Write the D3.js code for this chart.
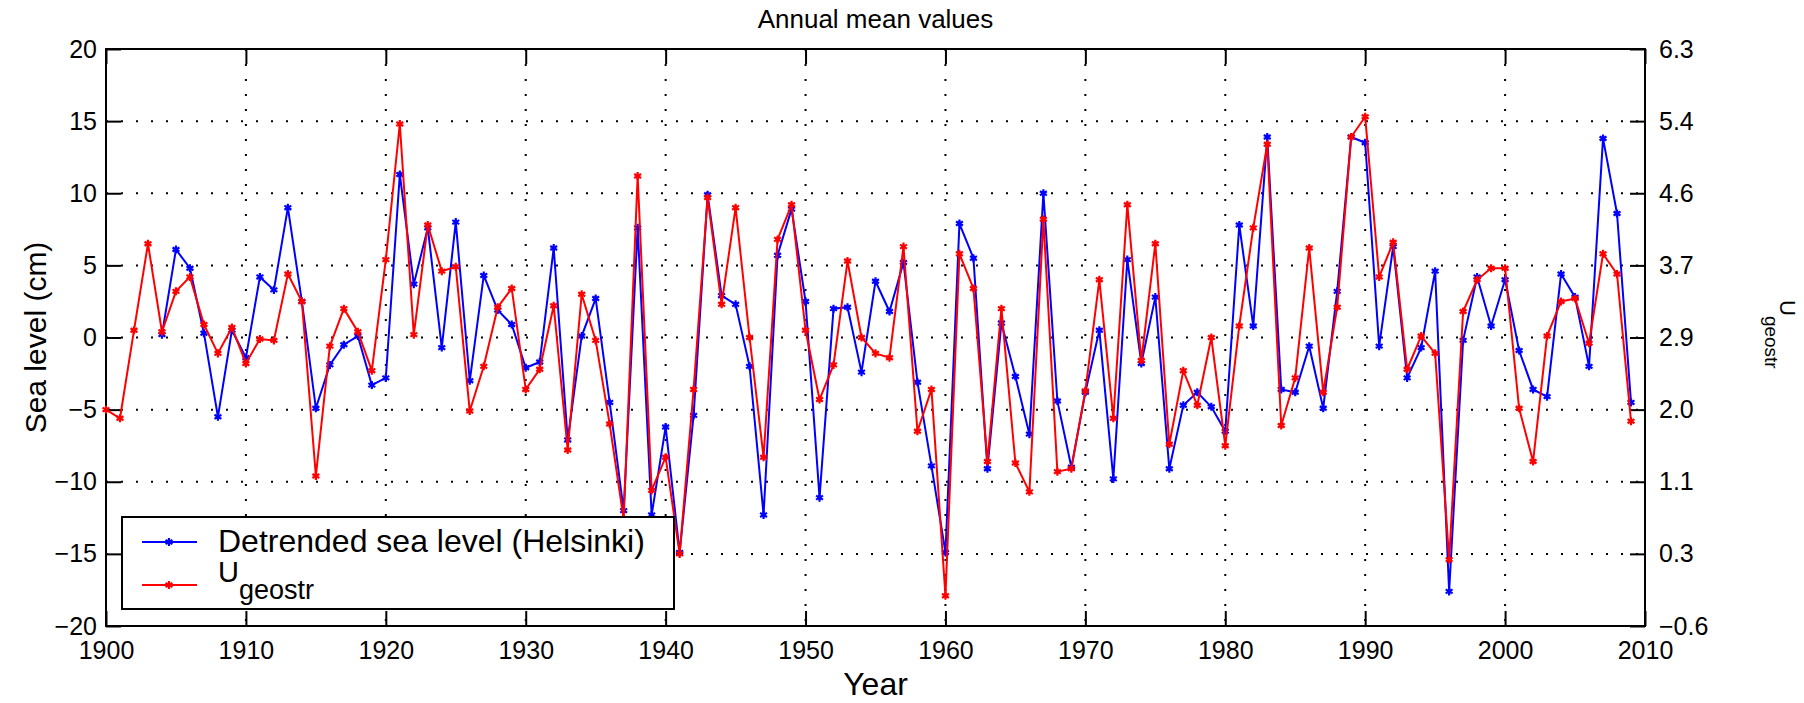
<!DOCTYPE html>
<html>
<head>
<meta charset="utf-8">
<script src="https://cdn.jsdelivr.net/npm/d3@7"></script>
<style>
  body { margin: 0; background: #fff; }
  svg { display: block; font-family: "Liberation Sans", Arial, Helvetica, sans-serif; }
</style>
</head>
<body>
<svg id="chart"></svg>
<script>
// annual means, 1900-2009
const years = d3.range(1900, 2010);

// detrended sea level at Helsinki (cm), starts 1904
const seaLevel = [
  null, null, null, null, 0.2, 6.1, 4.8, 0.3, -5.5, 0.5,
  -1.4, 4.2, 3.3, 9.0, 2.5, -4.9, -1.9, -0.5, 0.1, -3.3,
  -2.8, 11.3, 3.7, 7.6, -0.7, 8.0, -3.0, 4.3, 1.9, 0.9,
  -2.1, -1.7, 6.2, -7.1, 0.1, 2.7, -4.5, -12.0, 7.6, -12.3,
  -6.2, -14.9, -5.4, 9.9, 2.9, 2.3, -2.0, -12.3, 5.7, 8.9,
  2.5, -11.1, 2.0, 2.1, -2.4, 3.9, 1.8, 5.2, -3.1, -8.9,
  -14.9, 7.9, 5.5, -9.1, 1.0, -2.7, -6.7, 10.0, -4.4, -9.0,
  -3.8, 0.5, -9.8, 5.4, -1.8, 2.8, -9.1, -4.7, -3.8, -4.8,
  -6.5, 7.8, 0.8, 13.9, -3.6, -3.8, -0.6, -4.9, 3.2, 13.9,
  13.5, -0.6, 6.3, -2.8, -0.7, 4.6, -17.6, -0.2, 4.2, 0.8,
  4.0, -0.9, -3.6, -4.1, 4.4, 2.8, -2.0, 13.8, 8.6, -4.5
];

// U_geostr, as drawn against the left axis
const uGeostr = [
  -5.0, -5.6, 0.5, 6.5, 0.4, 3.2, 4.2, 0.9, -1.1, 0.7,
  -1.8, -0.1, -0.2, 4.4, 2.5, -9.6, -0.6, 2.0, 0.4, -2.3,
  5.4, 14.8, 0.2, 7.8, 4.6, 4.9, -5.1, -2.0, 2.1, 3.4,
  -3.6, -2.2, 2.2, -7.8, 3.0, -0.2, -6.0, -12.6, 11.2, -10.6,
  -8.3, -15.0, -3.6, 9.7, 2.3, 9.0, 0.0, -8.3, 6.8, 9.2,
  0.5, -4.3, -1.9, 5.3, 0.0, -1.1, -1.4, 6.3, -6.5, -3.6,
  -17.9, 5.8, 3.4, -8.6, 2.0, -8.7, -10.7, 8.2, -9.3, -9.1,
  -3.7, 4.0, -5.6, 9.2, -1.6, 6.5, -7.4, -2.3, -4.7, 0.0,
  -7.5, 0.8, 7.6, 13.4, -6.1, -2.8, 6.2, -3.8, 2.1, 13.9,
  15.3, 4.2, 6.6, -2.2, 0.1, -1.1, -15.4, 1.8, 4.0, 4.8,
  4.8, -4.9, -8.6, 0.1, 2.5, 2.7, -0.4, 5.8, 4.4, -5.8
];

const xTicks = d3.range(1900, 2011, 10);
const leftTicks = [-20, -15, -10, -5, 0, 5, 10, 15, 20];
const rightTickLabels = ["\u22120.6", "0.3", "1.1", "2.0", "2.9", "3.7", "4.6", "5.4", "6.3"];

const margin = {top: 49, right: 159, bottom: 77, left: 106},
    width = 1804 - margin.left - margin.right,
    height = 703 - margin.top - margin.bottom;

const svg = d3.select("#chart")
  .attr("width", 1804)
  .attr("height", 703);

svg.append("rect").attr("width", 1804).attr("height", 703).attr("fill", "#fff");

const g = svg.append("g")
  .attr("transform", "translate(" + margin.left + "," + margin.top + ")");

const x = d3.scaleLinear().domain([1900, 2010]).range([0, width]);
const y = d3.scaleLinear().domain([-20, 20]).range([height, 0]);

// dotted grid
g.append("g").selectAll("line")
  .data(xTicks.slice(1, -1))
  .join("line")
  .attr("x1", d => x(d)).attr("x2", d => x(d))
  .attr("y1", 0).attr("y2", height)
  .attr("stroke", "#000").attr("stroke-width", 2)
  .attr("stroke-dasharray", "2,13");

g.append("g").selectAll("line")
  .data(leftTicks.slice(1, -1))
  .join("line")
  .attr("x1", 0).attr("x2", width)
  .attr("y1", d => y(d)).attr("y2", d => y(d))
  .attr("stroke", "#000").attr("stroke-width", 2)
  .attr("stroke-dasharray", "2,13");

// axes, ticks pointing inwards like matlab
const tickFont = sel => {
  sel.select(".domain").remove();
  sel.selectAll(".tick line").attr("stroke-width", 2);
  sel.selectAll(".tick text").attr("fill", "#000").style("font-size", "25px");
};

g.append("g")
  .attr("transform", "translate(0," + height + ")")
  .call(d3.axisBottom(x).tickValues(xTicks).tickFormat(d3.format("d")).tickSize(-15).tickPadding(15))
  .call(tickFont);

g.append("g")
  .call(d3.axisTop(x).tickValues(xTicks).tickFormat("").tickSize(-15))
  .call(tickFont);

g.append("g")
  .call(d3.axisLeft(y).tickValues(leftTicks).tickSize(-15).tickPadding(9))
  .call(tickFont);

g.append("g")
  .attr("transform", "translate(" + width + ",0)")
  .call(d3.axisRight(y).tickValues(leftTicks).tickFormat((d, i) => rightTickLabels[i]).tickSize(-15).tickPadding(14))
  .call(tickFont);

g.append("rect")
  .attr("width", width).attr("height", height)
  .attr("fill", "none").attr("stroke", "#000").attr("stroke-width", 2);

// series
const series = [
  {name: "sea", values: seaLevel, color: "#0000ff"},
  {name: "u", values: uGeostr, color: "#ff0000"}
];

const line = d3.line()
  .defined(d => d.v != null)
  .x(d => x(d.year))
  .y(d => y(d.v));

const star = d3.symbol().type(d3.symbolAsterisk).size(45);

// asterisk with a small dot in the middle, reads like the matlab marker
const marker = (sel, color) => {
  sel.append("path")
    .attr("d", star)
    .attr("fill", "none")
    .attr("stroke", color)
    .attr("stroke-width", 2.2);
  sel.append("circle")
    .attr("r", 2.2)
    .attr("fill", color);
};

series.forEach(s => {
  const pts = years.map((yr, i) => ({year: yr, v: s.values[i]}));
  g.append("path")
    .datum(pts)
    .attr("d", line)
    .attr("fill", "none")
    .attr("stroke", s.color)
    .attr("stroke-width", 2);
  g.append("g").selectAll("g")
    .data(pts.filter(d => d.v != null))
    .join("g")
    .attr("transform", d => "translate(" + x(d.year) + "," + y(d.v) + ")")
    .call(marker, s.color);
});

// legend
const legend = svg.append("g").attr("transform", "translate(122,517)");
legend.append("rect")
  .attr("width", 552).attr("height", 92)
  .attr("fill", "#fff").attr("stroke", "#000").attr("stroke-width", 2);

const rows = [25, 68];
series.forEach((s, i) => {
  legend.append("line")
    .attr("x1", 20).attr("x2", 75)
    .attr("y1", rows[i]).attr("y2", rows[i])
    .attr("stroke", s.color).attr("stroke-width", 2);
  legend.append("g")
    .attr("transform", "translate(47," + rows[i] + ")")
    .call(marker, s.color);
});

legend.append("text")
  .attr("x", 96).attr("y", 35)
  .style("font-size", "32px")
  .text("Detrended sea level (Helsinki)");

const uLabel = legend.append("text")
  .attr("x", 96).attr("y", 65)
  .style("font-size", "29px");
uLabel.append("tspan").text("U");
uLabel.append("tspan").attr("dy", 17).style("font-size", "27px").text("geostr");

// titles
svg.append("text")
  .attr("x", margin.left + width / 2).attr("y", 28)
  .attr("text-anchor", "middle")
  .style("font-size", "26px")
  .text("Annual mean values");

svg.append("text")
  .attr("x", margin.left + width / 2).attr("y", 695)
  .attr("text-anchor", "middle")
  .style("font-size", "32px")
  .text("Year");

svg.append("text")
  .attr("transform", "translate(46," + (margin.top + height / 2) + ") rotate(-90)")
  .attr("text-anchor", "middle")
  .style("font-size", "30px")
  .text("Sea level (cm)");

const rLabel = svg.append("text")
  .attr("transform", "translate(1780,300) rotate(90)")
  .style("font-size", "22px");
rLabel.append("tspan").text("U");
rLabel.append("tspan").attr("dy", 15).style("font-size", "19px").text("geostr");
</script>
</body>
</html>
